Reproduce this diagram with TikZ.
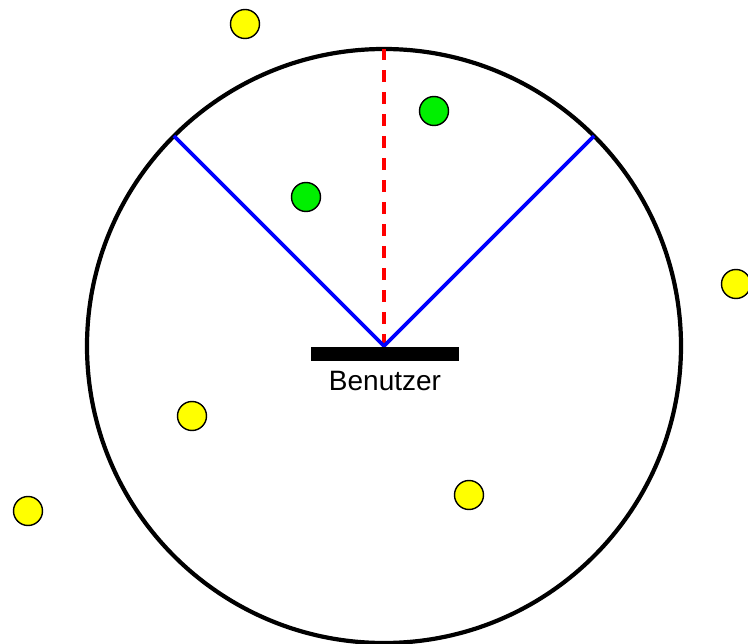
\documentclass[tikz,border=0pt]{standalone}
\usepackage{fontspec}
\setmainfont{Liberation Sans}
\usetikzlibrary{calc}
\definecolor{viewBlue}{HTML}{0000FF}
\definecolor{viewRed}{HTML}{FF0000}
\definecolor{itemYellow}{HTML}{FFFF00}
\definecolor{itemGreen}{HTML}{00F000}
\tikzset{
  view diagram/.style={
    x=1pt, y=-1pt,
    every node/.style={font=\fontsize{28}{33}\selectfont,
      text=black, inner sep=0pt, outer sep=0pt}
  },
  view range/.style={draw=black, line width=4.2pt},
  view edge/.style={draw=viewBlue, line width=3.8pt},
  view axis/.style={draw=viewRed, line width=4.2pt, dash pattern=on 12pt off 10pt},
  user bar/.style={fill=black, minimum width=148pt, minimum height=14pt},
  item/.style={circle, draw=black, line width=1.4pt, minimum size=29pt},
  item out/.style={item, fill=itemYellow},
  item in/.style={item, fill=itemGreen}
}

\begin{document}
\begin{tikzpicture}[view diagram]
    \useasboundingbox (0,0) rectangle (748,644);
    \coordinate (user) at (384,346);
    \draw[view range] (user) circle[radius=297];
    % field of view
    \coordinate (left end) at ($(user)+(-210,-210)$);
    \coordinate (right end) at ($(user)+(210,-210)$);
    \coordinate (top end) at ($(user)+(0,-297)$);
    \draw[view axis] (user) -- (top end);
    \draw[view edge] (left end) -- (user) -- (right end);
    \node[user bar] (bar) at (385,354) {};
    \node[anchor=north] (label) at (385,371) {Benutzer};
    % objects
    \node[item out] (y1) at (245,24) {};
    \node[item out] (y2) at (736,284) {};
    \node[item out] (y3) at (192,416) {};
    \node[item out] (y4) at (28,511) {};
    \node[item out] (y5) at (469,495) {};
    \node[item in] (g1) at (434,111) {};
    \node[item in] (g2) at (306,197) {};
\end{tikzpicture}
\end{document}
